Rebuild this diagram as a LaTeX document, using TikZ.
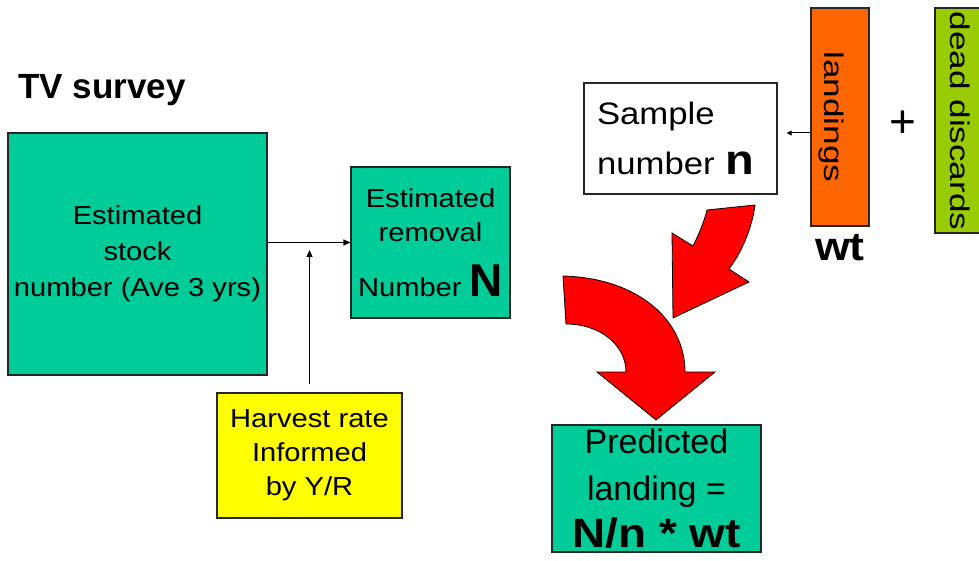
\documentclass[tikz,border=0pt]{standalone}
\usepackage{fontspec}
\setmainfont{Liberation Sans}
\newfontfamily\widefont[FakeStretch=1.12]{Liberation Sans}
\newfontfamily\widerfont[FakeStretch=1.3]{Liberation Sans}
\usetikzlibrary{arrows.meta}
\definecolor{boxteal}{RGB}{0,204,153}
\definecolor{boxorange}{RGB}{255,102,0}
\definecolor{boxgreen}{RGB}{153,204,0}
\definecolor{boxyellow}{RGB}{255,255,0}
\definecolor{arrowred}{RGB}{255,0,0}
\begin{document}
\begin{tikzpicture}[x=1pt,y=-1pt,
  box/.style={draw=black!85, line width=1.2pt, inner sep=0pt, align=center},
  conn/.style={line width=1pt, -{Triangle[length=7pt,width=6pt]}},
  bigarrow/.style={fill=arrowred, draw=black, line width=0.8pt, line join=miter}]
\useasboundingbox (0,0) rectangle (979,561);

\node[font=\bfseries\fontsize{35}{40}\selectfont, anchor=base west, inner sep=0pt] (tv) at (18,99) {TV survey};

\node[box, fill=boxteal, minimum width=259pt, minimum height=242pt,
  font=\widefont\fontsize{26}{36}\selectfont] (stock) at (137.5,254)
  {Estimated\\stock\\number (Ave 3 yrs)};

\node[box, fill=boxteal, minimum width=159pt, minimum height=151pt,
  font=\widefont\fontsize{26}{34}\selectfont] (removal) at (430.5,242.5)
  {Estimated\\removal\\[21pt]Number {\normalfont\bfseries\fontsize{46}{46}\selectfont N}};

\node[box, fill=boxyellow, minimum width=185pt, minimum height=125pt,
  font=\widefont\fontsize{26}{34}\selectfont] (harvest) at (309.5,455.5)
  {Harvest rate\\Informed\\by Y/R};

\node[box, fill=white, minimum width=193pt, minimum height=111pt, align=left,
  text width=167pt, font=\widefont\fontsize{31}{50}\selectfont] (sample) at (680.5,138.5)
  {Sample\\number {\bfseries\fontsize{42}{42}\selectfont n}};

\node[box, fill=boxorange, minimum width=58pt, minimum height=218pt] (landings) at (840,117) {};
\node[rotate=-90, inner sep=0pt, font=\widerfont\fontsize{27}{30}\selectfont] (landtxt) at (831,117) {landings};

\node[box, fill=boxgreen, minimum width=50pt, minimum height=225pt] (discards) at (960,120.5) {};
\node[rotate=-90, inner sep=0pt, font=\widerfont\fontsize{27}{30}\selectfont] (disctxt) at (960,121) {dead discards};

\node[font=\fontsize{46}{46}\selectfont, inner sep=0pt] (plus) at (903,124) {+};
\node[font=\widefont\bfseries\fontsize{40}{40}\selectfont, anchor=base, inner sep=0pt] (wt) at (840,260) {wt};

\node[box, fill=boxteal, minimum width=209pt, minimum height=127pt,
  font=\fontsize{34}{47}\selectfont] (pred) at (656.5,488.5)
  {Predicted\\landing =\\{\widefont\bfseries\fontsize{41}{41}\selectfont N/n * wt}};

% connectors
\draw[conn] (stock.east |- removal.west) -- (removal.west);
\coordinate (hv) at (309.5,250);
\draw[conn, shorten <=8pt] (harvest.north) -- (hv);
\coordinate (la) at (811,133);
\draw[line width=1pt, -{Triangle[length=5pt,width=5pt]}, shorten >=9pt] (la) -- (sample.east |- la);

% red arrows
\draw[bigarrow] (707,210) -- (755,205) .. controls (752,228) and (742,252) .. (729,269)
  -- (749,282) -- (673,318) -- (672,233) -- (693,246)
  .. controls (699,234) and (704,222) .. (707,210) -- cycle;
\draw[bigarrow] (563,276) .. controls (638,278) and (685,320) .. (685,372)
  -- (715,372) -- (656,420) -- (597,372) -- (626,372)
  .. controls (626,345) and (600,324) .. (566,324) -- cycle;
\end{tikzpicture}
\end{document}
